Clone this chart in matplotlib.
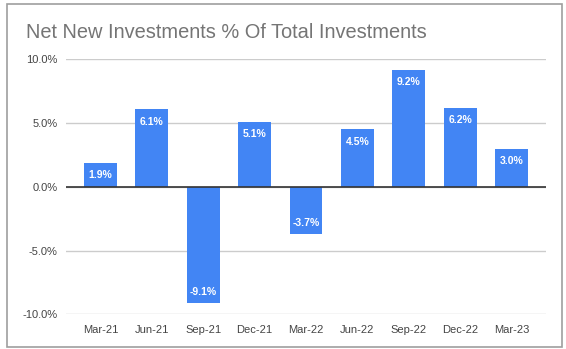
import matplotlib
matplotlib.use("Agg")
import matplotlib.pyplot as plt
from matplotlib.patches import Rectangle
from matplotlib.ticker import FuncFormatter

categories = ["Mar-21", "Jun-21", "Sep-21", "Dec-21", "Mar-22", "Jun-22", "Sep-22", "Dec-22", "Mar-23"]
values = [1.9, 6.1, -9.1, 5.1, -3.7, 4.5, 9.2, 6.2, 3.0]
yticks = [-10, -5, 0, 5, 10]
title = "Net New Investments % Of Total Investments"

plt.rcParams['font.family'] = ['Liberation Sans', 'DejaVu Sans']

fig = plt.figure(figsize=(5.66, 3.49), dpi=100)
fig.patches.append(Rectangle((7/566, 2/349), 555/566, 343/349, transform=fig.transFigure,
                             fill=False, edgecolor="#9e9e9e", linewidth=1.2, zorder=0))

ax = fig.add_axes([66/566, 34.7/349, 480/566, 255/349])
x = list(range(len(categories)))
bars = ax.bar(x, values, width=0.64, color="#4285f4", zorder=3)

for xi, v in zip(x, values):
    if v >= 0:
        ax.annotate(f"{v:.1f}%", (xi, v), xytext=(0, -9), textcoords="offset points",
                    ha="center", va="center", color="white", fontsize=7.5, fontweight="bold", zorder=4)
    else:
        ax.annotate(f"{v:.1f}%", (xi, v), xytext=(0, 8), textcoords="offset points",
                    ha="center", va="center", color="white", fontsize=7.5, fontweight="bold", zorder=4)

ax.set_xlim(-0.67, 8.67)
ax.set_ylim(-10, 10)
ax.set_yticks(yticks)
ax.yaxis.set_major_formatter(FuncFormatter(lambda v, p: f"{v:.1f}%"))
ax.set_xticks(x)
ax.set_xticklabels(categories)
ax.tick_params(axis="both", length=0, labelsize=8, colors="#444444")
ax.tick_params(axis="x", pad=8)
ax.tick_params(axis="y", pad=6)
ax.grid(axis="y", color="#cccccc", linewidth=1, zorder=0)
ax.axhline(0, color="#333333", linewidth=1.2, zorder=4)
for s in ax.spines.values():
    s.set_visible(False)

fig.text(26/566, 1 - 32/349, title, fontsize=14.4, color="#757575", va="center", ha="left")

fig.savefig("out.png", dpi=100)
